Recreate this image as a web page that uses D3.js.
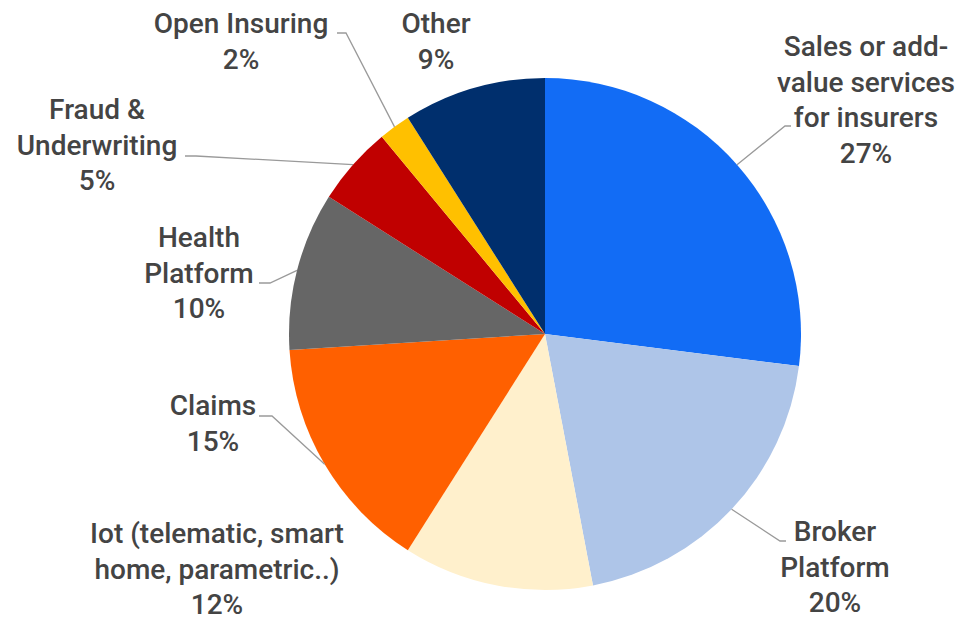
<!DOCTYPE html>
<html>
<head>
<meta charset="utf-8">
<script src="https://cdn.jsdelivr.net/npm/d3@7"></script>
<style>
  html, body { margin: 0; padding: 0; background: #fff; }
  svg { display: block; }
  .lbl { font-family: Roboto, "Noto Sans", sans-serif; font-weight: 500; font-size: 28px; fill: #444; }
</style>
</head>
<body>
<div id="chart"></div>
<script>
const categories = [
  'Sales or add-value services for insurers',
  'Broker Platform',
  'Iot (telematic, smart home, parametric..)',
  'Claims',
  'Health Platform',
  'Fraud & Underwriting',
  'Open Insuring',
  'Other'
];
const values = [27, 20, 12, 15, 10, 5, 2, 9];
const labelLines = [
  ['Sales or add-', 'value services', 'for insurers'],
  ['Broker', 'Platform'],
  ['Iot (telematic, smart', 'home, parametric..)'],
  ['Claims'],
  ['Health', 'Platform'],
  ['Fraud &', 'Underwriting'],
  ['Open Insuring'],
  ['Other']
];
const colors = ['#126cf5', '#aec5e8', '#fff0cc', '#ff6000', '#666666', '#c00000', '#ffc000', '#002f6d'];

// label layout: text centre x, first baseline y, leader elbow (null = no leader)
const labelLayout = [
  { x: 866, y: 56, elbow: [785, 126], end: [791, 126] },
  { x: 835, y: 541, elbow: [780, 541], end: [786, 541] },
  { x: 217, y: 543, elbow: null },
  { x: 213, y: 415, elbow: [272, 416], end: [259, 416] },
  { x: 199, y: 247, elbow: [270, 283], end: [259, 283] },
  { x: 97, y: 119, elbow: [196, 156], end: [185, 156] },
  { x: 241, y: 33, elbow: [346, 33], end: [337, 33] },
  { x: 436, y: 33, elbow: null }
];

const width = 966, height = 623;
const cx = 545, cy = 334, radius = 256;
const lineH = 35.5;

const svg = d3.select('#chart').append('svg')
  .attr('width', width)
  .attr('height', height);

const pie = d3.pie().sort(null).value(d => d)(values);
const arc = d3.arc().innerRadius(0).outerRadius(radius);

const g = svg.append('g').attr('transform', `translate(${cx},${cy})`);

g.selectAll('path.slice')
  .data(pie)
  .join('path')
  .attr('class', 'slice')
  .attr('d', arc)
  .attr('fill', (d, i) => colors[i]);

// leader lines
const leaders = svg.append('g');
pie.forEach((d, i) => {
  const lay = labelLayout[i];
  if (!lay.elbow) return;
  const mid = (d.startAngle + d.endAngle) / 2;
  const px = cx + radius * Math.sin(mid);
  const py = cy - radius * Math.cos(mid);
  leaders.append('polyline')
    .attr('points', [[px, py], lay.elbow, lay.end].map(p => p.join(',')).join(' '))
    .attr('fill', 'none')
    .attr('stroke', '#9a9a9a')
    .attr('stroke-width', 1.3);
});

// labels
const labels = svg.append('g');
pie.forEach((d, i) => {
  const lay = labelLayout[i];
  const lines = labelLines[i].concat([d3.format('.0f')(values[i]) + '%']);
  const t = labels.append('text')
    .attr('class', 'lbl')
    .attr('text-anchor', 'middle')
    .attr('x', lay.x)
    .attr('y', lay.y);
  lines.forEach((s, j) => {
    t.append('tspan')
      .attr('x', lay.x)
      .attr('y', lay.y + j * lineH)
      .text(s);
  });
});
</script>
</body>
</html>
